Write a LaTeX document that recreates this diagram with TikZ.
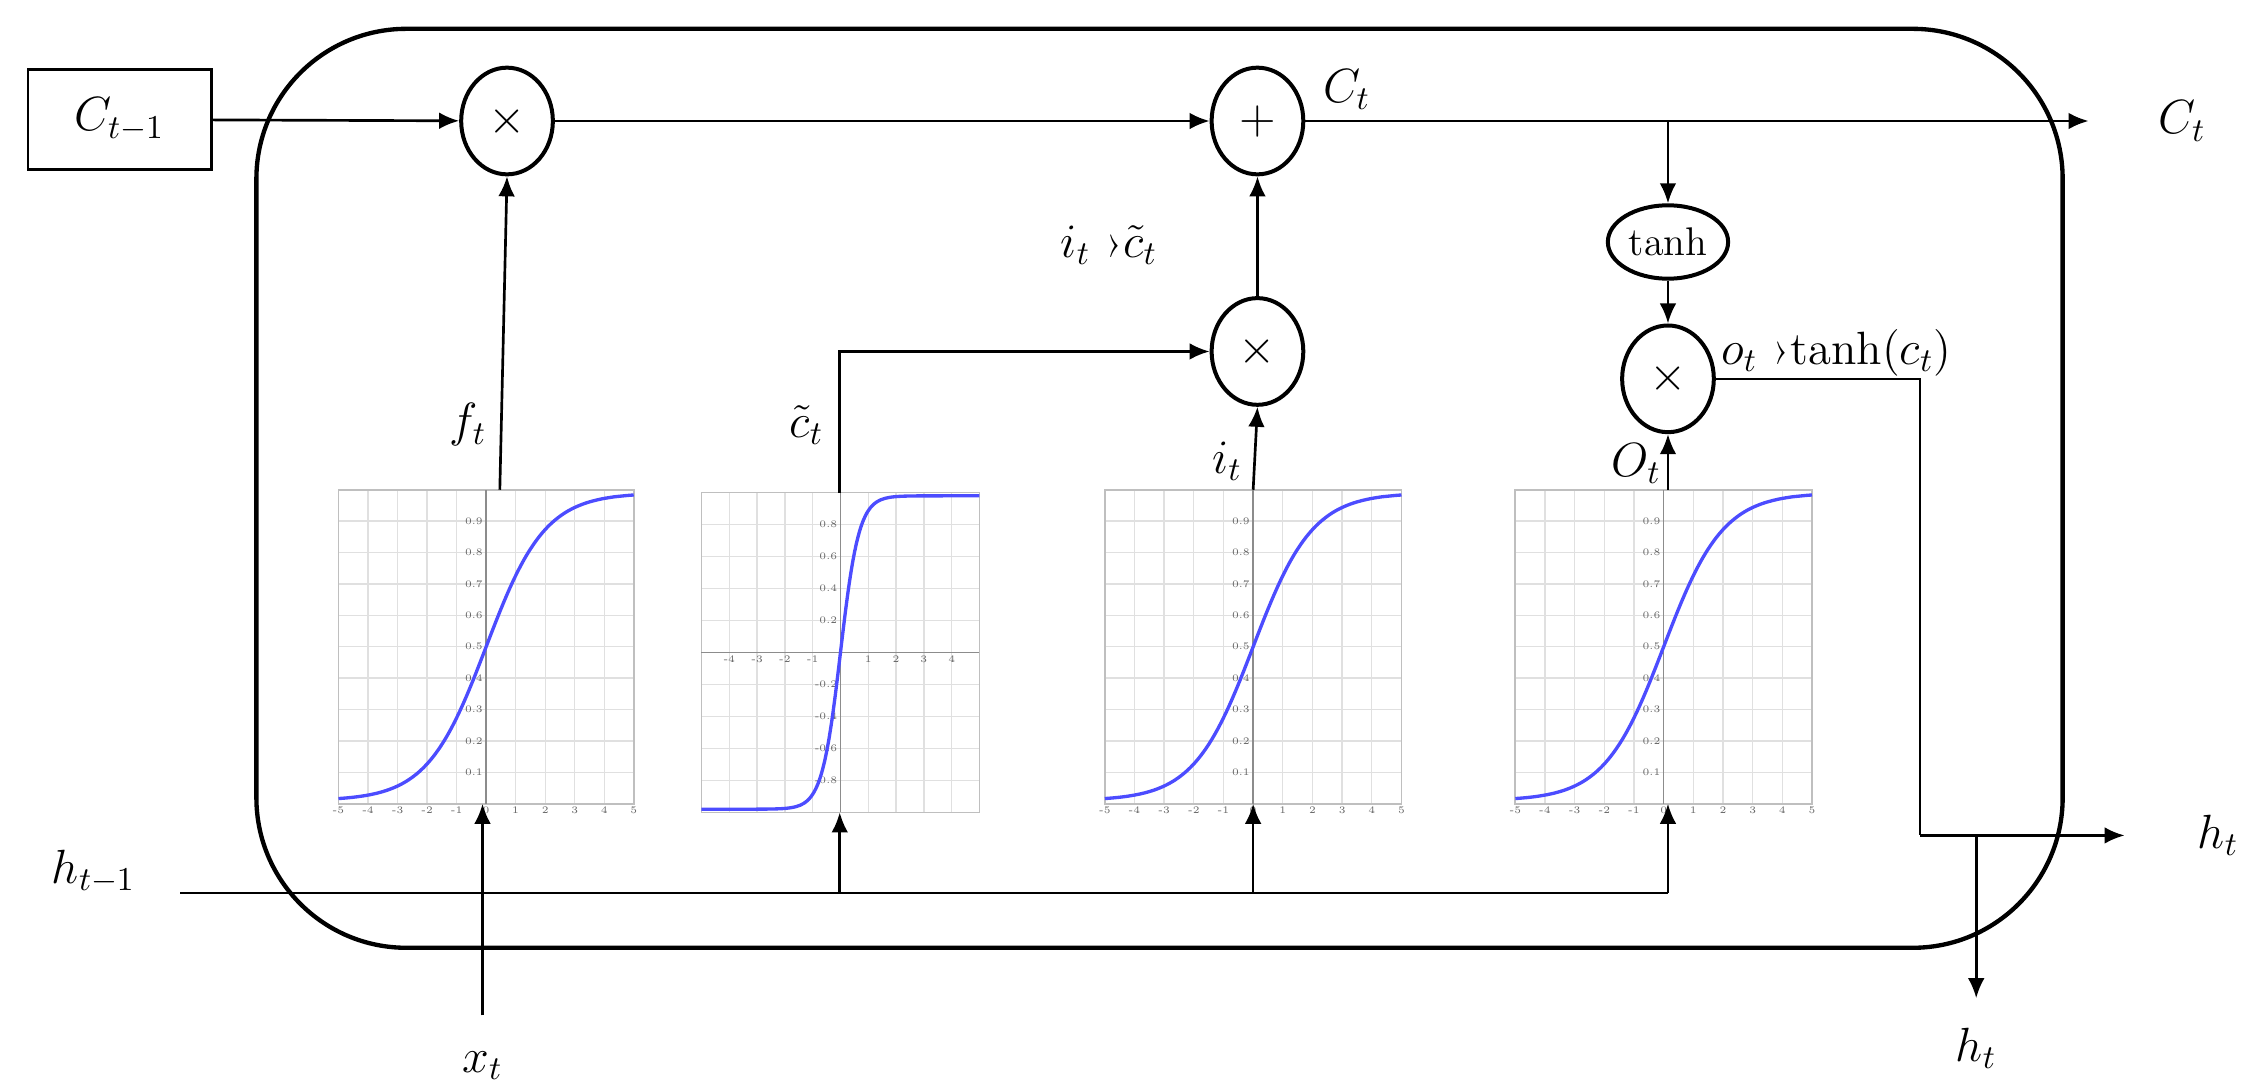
\documentclass[tikz,border=0pt]{standalone}
\usepackage{fontspec}
\usetikzlibrary{arrows.meta,shapes.geometric}
\newcommand\mysig[5]{% #1 x0, #2 ybottom, #3 w, #4 h, #5 type (0 sig,1 tanh)
\begin{scope}[shift={(#1,#2)},x={(#3*0.0432pt,0)},y={(0,#4*0.432pt)}]
 \draw[black!12,line width=0.4pt] (0,0) grid[xstep=1,ystep=0.1] (10,1);
 \draw[black!25,line width=0.5pt] (0,0) rectangle (10,1);
 \draw[black!45,line width=0.5pt] (5,0) -- (5,1);
 \ifnum#5=0
  \foreach \v in {1,...,9}{\node[tick,anchor=east] at (5,\v/10) {0.\v};}
  \foreach \v in {-5,...,5}{\node[tick,anchor=north] at (\v+5,0) {\v};}
  \draw[blue!70,line width=1pt,smooth,samples=60,domain=0:10] plot (\x,{1/(1+exp(-(\x-5)))*0.98+0.01});
 \else
  \draw[black!45,line width=0.5pt] (0,0.5) -- (10,0.5);
  \foreach \v in {-4,...,-1,1,2,3,4}{\node[tick,anchor=north] at (\v+5,0.5) {\v};}
  \foreach \v/\l in {0.9/0.8,0.8/0.6,0.7/0.4,0.6/0.2,0.4/-0.2,0.3/-0.4,0.2/-0.6,0.1/-0.8}{\node[tick,anchor=east] at (5,\v) {\l};}
  \draw[blue!70,line width=1pt,smooth,samples=80,domain=0:10] plot (\x,{0.5+0.49*tanh(1.5*(\x-5))});
 \fi
\end{scope}}
\begin{document}
\begin{tikzpicture}[x=0.432pt,y=-0.432pt,
  every node/.style={font=\fontsize{14}{16}\selectfont},
  tick/.style={font=\fontsize{3}{3}\selectfont,text=black!60,inner sep=0.8pt},
  op/.style={draw,line width=1.2pt,ellipse,minimum width=27.5pt,minimum height=32pt,inner sep=0pt},
  ar/.style={-{Latex[length=6pt,width=5pt]},line width=0.8pt},
  ln/.style={line width=0.8pt}]
\useasboundingbox (0,0) rectangle (1560,757);
\draw[line width=1.3pt,rounded corners=45pt] (178,20) rectangle (1432,658);
\node[draw,line width=0.8pt,minimum width=55pt,minimum height=30pt] (cprev) at (83,83) {$C_{t-1}$};
\node[op] (m1) at (352,84) {$\times$};
\node[op] (pl) at (873,84) {$+$};
\node[op] (m2) at (873,244) {$\times$};
\node[op] (m3) at (1158,263) {$\times$};
\node[draw,line width=1.2pt,ellipse,minimum width=36pt,minimum height=22pt,inner sep=1pt] (th) at (1158,168) {\fontsize{12}{14}\selectfont tanh};
\mysig{235}{558}{205}{218}{0}
\mysig{487}{564}{193}{222}{1}
\mysig{767}{558}{206}{218}{0}
\mysig{1052}{558}{206}{218}{0}
\coordinate (p1t) at (347,340);
\coordinate (p2t) at (583,342);
\coordinate (p3t) at (870,340);
\coordinate (p4t) at (1158,340);
\node (ct) at (935,62) {$C_t$};
\node (ctout) at (1515,84) {$C_t$};
\coordinate (ctend) at (1450,84);
\coordinate (split) at (1158,84);
\node (ictl) at (770,170) {$i_t$ ›$\tilde c_t$};
\node (ft) at (325,295) {$f_t$};
\node (ctl) at (560,295) {$\tilde c_t$};
\node (itl) at (852,320) {$i_t$};
\node (otl) at (1136,322) {$O_t$};
\node (otanh) at (1275,245) {$o_t$ ›tanh($c_t$)};
\node (hout) at (1540,580) {$h_t$};
\node (hdown) at (1372,728) {$h_t$};
\node (hprev) at (65,605) {$h_{t-1}$};
\node (xt) at (335,740) {$x_t$};
\coordinate (hs) at (125,620);
\coordinate (he) at (1158,620);
\coordinate (xs) at (335,705);
\draw[ar] (cprev) -- (m1);
\draw[ar] (m1) -- (pl);
\draw[ar] (pl.east) -- (ctend);
\draw[ar] (split) -- (th);
\draw[ar] (th) -- (m3);
\draw[ar] (m2) -- (pl);
\draw[ar] (p1t) -- (m1.south);
\draw[ar] (p2t) |- (m2.west);
\draw[ar] (p3t) -- (m2.south);
\draw[ar] (p4t) -- (m3.south);
\draw[ln] (m3.east) -- (1333,263) -- (1333,580) coordinate (hc);
\draw[ar] (hc) -- (1475,580);
\draw[ar] (1372,580) -- (1372,693);
\draw[ln] (hs) -- (he);
\draw[ar] (583,620) -- (583,564);
\draw[ar] (870,620) -- (870,558);
\draw[ar] (he) -- (1158,558);
\draw[ar] (xs) -- (335,558);
\end{tikzpicture}
\end{document}
